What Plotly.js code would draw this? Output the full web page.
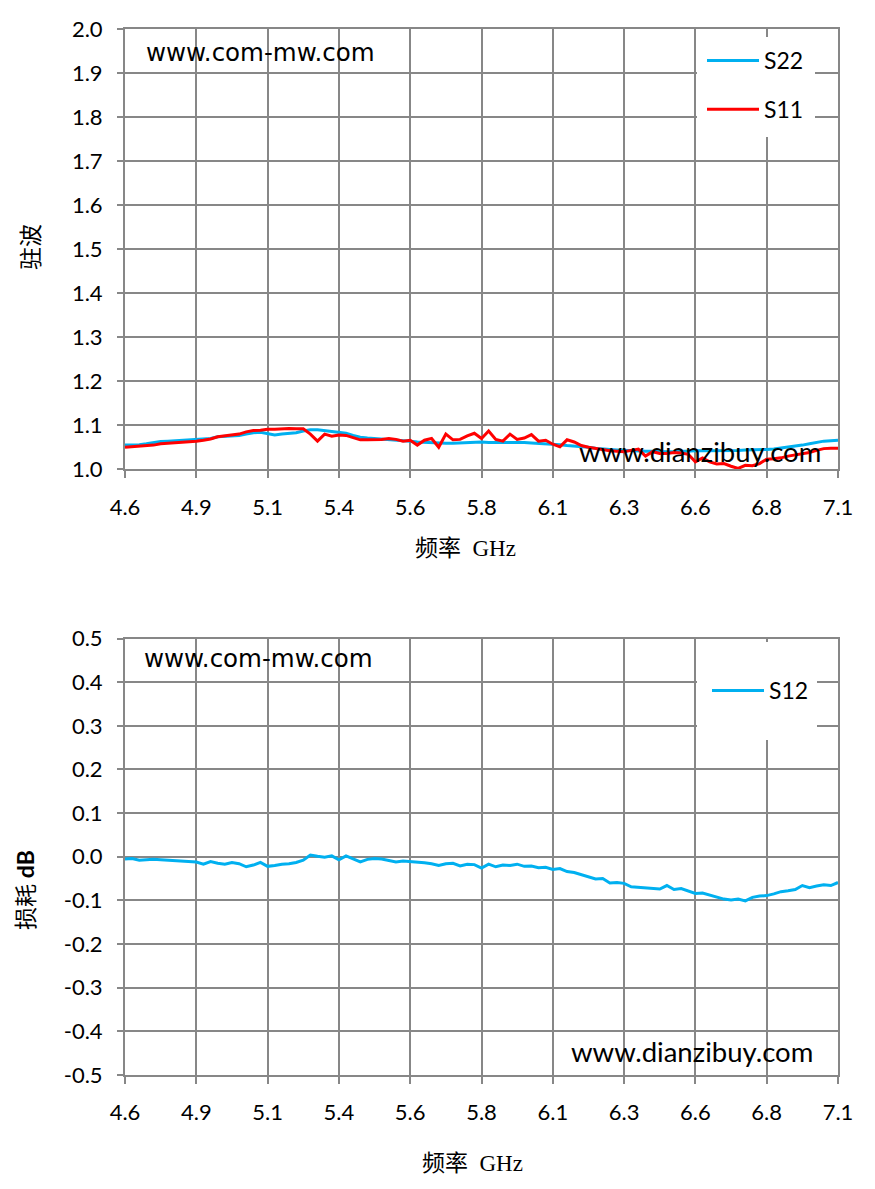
<!DOCTYPE html>
<html>
<head>
<meta charset="utf-8">
<script src="https://cdn.plot.ly/plotly-3.0.1.min.js"></script>
<style>html,body{margin:0;padding:0;background:#fff;}#chart{width:875px;height:1189px;}</style>
</head>
<body>
<div id="chart"></div>
<script>
// Frequency points (GHz)
const freq = [4.600,4.625,4.650,4.675,4.700,4.725,4.750,4.775,4.800,4.825,
4.850,4.875,4.900,4.925,4.950,4.975,5.000,5.025,5.050,5.075,
5.100,5.125,5.150,5.175,5.200,5.225,5.250,5.275,5.300,5.325,
5.350,5.375,5.400,5.425,5.450,5.475,5.500,5.525,5.550,5.575,
5.600,5.625,5.650,5.675,5.700,5.725,5.750,5.775,5.800,5.825,
5.850,5.875,5.900,5.925,5.950,5.975,6.000,6.025,6.050,6.075,
6.100,6.125,6.150,6.175,6.200,6.225,6.250,6.275,6.300,6.325,
6.350,6.375,6.400,6.425,6.450,6.475,6.500,6.525,6.550,6.575,
6.600,6.625,6.650,6.675,6.700,6.725,6.750,6.775,6.800,6.825,
6.850,6.875,6.900,6.925,6.950,6.975,7.000,7.025,7.050,7.075,7.100];

// VSWR S22 (blue)
const s22 = [1.055,1.055,1.056,1.058,1.061,1.063,1.064,1.065,1.066,1.067,
1.067,1.068,1.070,1.074,1.075,1.076,1.077,1.080,1.083,1.084,
1.081,1.078,1.080,1.081,1.083,1.087,1.090,1.090,1.088,1.086,
1.084,1.082,1.077,1.073,1.071,1.070,1.069,1.068,1.066,1.065,
1.064,1.062,1.061,1.060,1.060,1.059,1.059,1.060,1.061,1.062,
1.062,1.061,1.061,1.062,1.061,1.061,1.061,1.060,1.059,1.058,
1.058,1.056,1.054,1.053,1.052,1.050,1.048,1.046,1.045,1.044,
1.043,1.042,1.042,1.041,1.041,1.040,1.040,1.040,1.041,1.041,
1.042,1.042,1.042,1.043,1.043,1.043,1.043,1.044,1.044,1.044,
1.045,1.046,1.048,1.050,1.052,1.055,1.058,1.061,1.064,1.065,1.066];

// VSWR S11 (red)
const s11 = [1.050,1.051,1.052,1.053,1.055,1.058,1.059,1.060,1.062,1.063,
1.064,1.066,1.069,1.074,1.076,1.078,1.080,1.085,1.088,1.089,
1.091,1.091,1.092,1.093,1.092,1.092,1.080,1.064,1.080,1.075,
1.078,1.077,1.072,1.067,1.067,1.067,1.068,1.070,1.068,1.064,
1.066,1.055,1.066,1.070,1.050,1.080,1.067,1.068,1.076,1.082,
1.070,1.087,1.068,1.064,1.080,1.068,1.071,1.079,1.064,1.066,
1.057,1.051,1.067,1.062,1.054,1.050,1.047,1.044,1.042,1.041,
1.040,1.043,1.046,1.030,1.040,1.036,1.036,1.038,1.037,1.034,
1.017,1.026,1.017,1.012,1.013,1.007,1.002,1.009,1.008,1.013,
1.023,1.024,1.026,1.030,1.033,1.035,1.038,1.043,1.047,1.048,1.048];

// Insertion loss S12 (dB)
const s12 = [-0.005,-0.004,-0.008,-0.007,-0.006,-0.007,-0.008,-0.008,-0.010,-0.011,
-0.012,-0.017,-0.011,-0.015,-0.017,-0.013,-0.016,-0.023,-0.019,-0.013,
-0.022,-0.020,-0.017,-0.016,-0.013,-0.008,0.004,0.001,-0.001,0.002,
-0.007,0.002,-0.005,-0.012,-0.006,-0.004,-0.005,-0.008,-0.012,-0.010,
-0.011,-0.012,-0.014,-0.016,-0.020,-0.016,-0.015,-0.021,-0.017,-0.018,
-0.026,-0.017,-0.023,-0.019,-0.020,-0.017,-0.022,-0.021,-0.025,-0.024,
-0.029,-0.027,-0.034,-0.036,-0.041,-0.045,-0.051,-0.050,-0.060,-0.059,
-0.061,-0.069,-0.070,-0.071,-0.072,-0.074,-0.066,-0.075,-0.073,-0.079,
-0.084,-0.083,-0.088,-0.092,-0.097,-0.099,-0.097,-0.101,-0.093,-0.090,
-0.089,-0.085,-0.080,-0.078,-0.075,-0.066,-0.071,-0.067,-0.064,-0.066,-0.059];

// Tick labels
const xTickVals = [4.6,4.85,5.1,5.35,5.6,5.85,6.1,6.35,6.6,6.85,7.1];
const xTickText = ['4.6','4.9','5.1','5.4','5.6','5.8','6.1','6.3','6.6','6.8','7.1'];
const yTopVals = [1.0,1.1,1.2,1.3,1.4,1.5,1.6,1.7,1.8,1.9,2.0];
const yTopText = ['1.0','1.1','1.2','1.3','1.4','1.5','1.6','1.7','1.8','1.9','2.0'];
const yBotVals = [-0.5,-0.4,-0.3,-0.2,-0.1,0.0,0.1,0.2,0.3,0.4,0.5];
const yBotText = ['-0.5','-0.4','-0.3','-0.2','-0.1','0.0','0.1','0.2','0.3','0.4','0.5'];

const GRID = '#878787';
const tickFont = {family:'Lato, "Liberation Sans", sans-serif', size:22, color:'#000'};
const titleFont = {family:'"Liberation Serif", "Noto Sans CJK SC", serif', size:23, color:'#000'};
const W = 875, H = 1189;
const px = v => v / W;
const py = v => 1 - v / H;

function xAxis(anchor){
  return {anchor:anchor, domain:[px(125), px(838)], range:[4.6,7.1],
    tickvals:xTickVals, ticktext:xTickText, showgrid:true, gridcolor:GRID, gridwidth:2,
    showline:true, linecolor:GRID, linewidth:2, mirror:true, zeroline:false,
    ticks:'outside', ticklen:7, tickwidth:2, tickcolor:GRID, tickfont:tickFont,
    ticklabelstandoff:10, fixedrange:true};
}
function yAxis(anchor, dom, rng, vals, text){
  return {anchor:anchor, domain:dom, range:rng, tickvals:vals, ticktext:text,
    showgrid:true, gridcolor:GRID, gridwidth:2, showline:true, linecolor:GRID, linewidth:2,
    mirror:true, zeroline:false, ticks:'outside', ticklen:6, tickwidth:2, tickcolor:GRID,
    tickfont:tickFont, ticklabelstandoff:10, fixedrange:true};
}

const data = [
  {x:freq, y:s22, name:'S22', type:'scatter', mode:'lines', xaxis:'x', yaxis:'y',
   line:{color:'#00B0F0', width:3}, legendgroup:'a', legend:'legend'},
  {x:freq, y:s11, name:'S11', type:'scatter', mode:'lines', xaxis:'x', yaxis:'y',
   line:{color:'#FF0000', width:3}, legendgroup:'b', legend:'legend'},
  {x:freq, y:s12, name:'S12', type:'scatter', mode:'lines', xaxis:'x2', yaxis:'y2',
   line:{color:'#00B0F0', width:3}, legendgroup:'c', legend:'legend2'}
];

const legFont = {family:'Lato, "Liberation Sans", sans-serif', size:23, color:'#000'};
const layout = {
  width:W, height:H, margin:{l:0,r:0,t:0,b:0}, paper_bgcolor:'#fff', plot_bgcolor:'#fff',
  showlegend:true,
  xaxis:xAxis('y'),
  yaxis:yAxis('x', [py(469.3), py(29.3)], [1.0,2.0], yTopVals, yTopText),
  xaxis2:xAxis('y2'),
  yaxis2:yAxis('x2', [py(1075), py(638.5)], [-0.5,0.5], yBotVals, yBotText),
  legend:{x:px(702), y:py(39), xanchor:'left', yanchor:'top', bgcolor:'rgba(0,0,0,0)',
    borderwidth:0, font:legFont, itemwidth:52, traceorder:'grouped', tracegroupgap:16},
  legend2:{x:px(707), y:py(669), xanchor:'left', yanchor:'top', bgcolor:'rgba(0,0,0,0)',
    borderwidth:0, font:legFont, itemwidth:52},
  shapes:[
    {type:'rect', xref:'paper', yref:'paper', x0:px(697), x1:px(815), y0:py(137), y1:py(37),
     fillcolor:'#fff', line:{width:0}, layer:'above'},
    {type:'rect', xref:'paper', yref:'paper', x0:px(697), x1:px(817), y0:py(740), y1:py(642),
     fillcolor:'#fff', line:{width:0}, layer:'above'}
  ],
  annotations:[
    {text:'驻波', xref:'paper', yref:'paper', x:px(32), y:py(247), textangle:-90,
     xanchor:'center', yanchor:'middle', showarrow:false, font:titleFont},
    {text:'频率  GHz', xref:'paper', yref:'paper', x:px(465), y:py(548),
     xanchor:'center', yanchor:'middle', showarrow:false, font:titleFont},
    {text:'损耗 <span style="font-family:Lato, Liberation Sans, sans-serif;font-weight:bold">dB</span>',
     xref:'paper', yref:'paper', x:px(25), y:py(890), textangle:-90,
     xanchor:'center', yanchor:'middle', showarrow:false, font:titleFont},
    {text:'频率  GHz', xref:'paper', yref:'paper', x:px(472), y:py(1163),
     xanchor:'center', yanchor:'middle', showarrow:false, font:titleFont},
    {text:'www.com-mw.com', xref:'paper', yref:'paper', x:px(144), y:py(52),
     xanchor:'left', yanchor:'middle', showarrow:false,
     font:{family:'"DejaVu Sans", Verdana, sans-serif', size:24.5, color:'#000'}},
    {text:'www.com-mw.com', xref:'paper', yref:'paper', x:px(142), y:py(659),
     xanchor:'left', yanchor:'middle', showarrow:false,
     font:{family:'"DejaVu Sans", Verdana, sans-serif', size:24.5, color:'#000'}},
    {text:'www.dianzibuy.com', xref:'paper', yref:'paper', x:px(577), y:py(451),
     xanchor:'left', yanchor:'middle', showarrow:false,
     font:{family:'Lato, "Liberation Sans", sans-serif', size:27.5, color:'#000'}},
    {text:'www.dianzibuy.com', xref:'paper', yref:'paper', x:px(569), y:py(1051),
     xanchor:'left', yanchor:'middle', showarrow:false,
     font:{family:'Lato, "Liberation Sans", sans-serif', size:27.5, color:'#000'}}
  ]
};

Plotly.newPlot('chart', data, layout, {displayModeBar:false, staticPlot:true});
</script>
</body>
</html>
